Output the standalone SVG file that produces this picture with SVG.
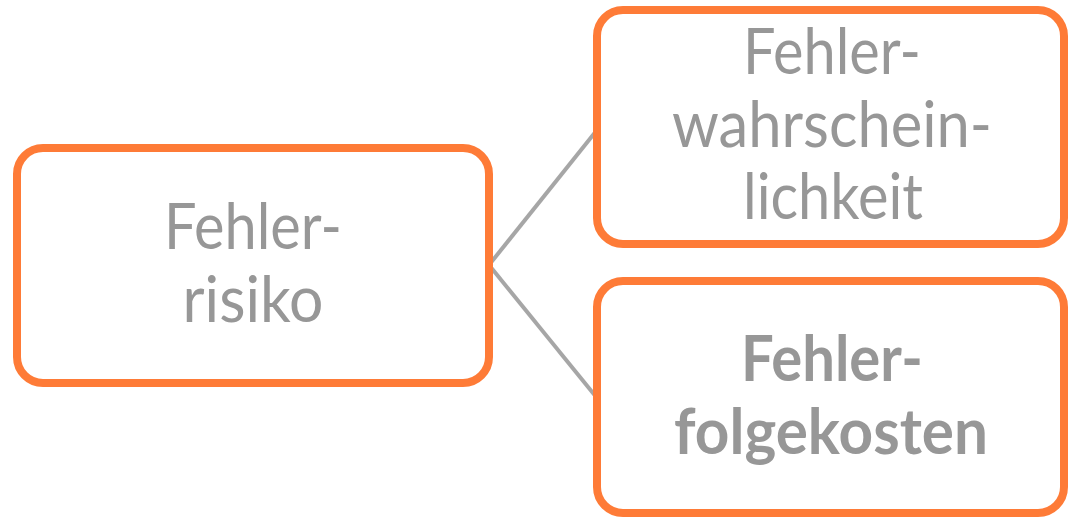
<svg xmlns="http://www.w3.org/2000/svg" width="1069" height="518" viewBox="0 0 1069 518">
  <style>
    .box { fill: #ffffff; stroke: #fe7b37; stroke-width: 8; }
    .edge { stroke: #a6a6a6; stroke-width: 4; fill: none; }
    .label { font-family: Lato, "Noto Sans", "Liberation Sans", sans-serif; font-size: 64px; fill: #979797; text-anchor: middle; }
    .bold { font-weight: bold; }
  </style>
  <rect width="1069" height="518" fill="#ffffff"/>

  <g id="connectors">
    <line class="edge" x1="489" y1="265" x2="597" y2="130"/>
    <line class="edge" x1="489" y1="265" x2="597" y2="398"/>
  </g>

  <g id="fehlerrisiko">
    <rect class="box" x="17" y="148" width="472" height="235" rx="26"/>
    <text class="label" x="253" y="249" textLength="178" lengthAdjust="spacingAndGlyphs">Fehler-</text>
    <text class="label" x="253" y="322" textLength="141" lengthAdjust="spacingAndGlyphs">risiko</text>
  </g>

  <g id="fehlerwahrscheinlichkeit">
    <rect class="box" x="597" y="10" width="467" height="234" rx="26"/>
    <text class="label" x="832" y="74" textLength="178" lengthAdjust="spacingAndGlyphs">Fehler-</text>
    <text class="label" x="832" y="147" textLength="320" lengthAdjust="spacingAndGlyphs">wahrschein-</text>
    <text class="label" x="833" y="219" textLength="180" lengthAdjust="spacingAndGlyphs">lichkeit</text>
  </g>

  <g id="fehlerfolgekosten">
    <rect class="box" x="597" y="281" width="467" height="232" rx="26"/>
    <text class="label bold" x="832" y="381" textLength="182" lengthAdjust="spacingAndGlyphs">Fehler-</text>
    <text class="label bold" x="831" y="454" textLength="314" lengthAdjust="spacingAndGlyphs">folgekosten</text>
  </g>
</svg>
